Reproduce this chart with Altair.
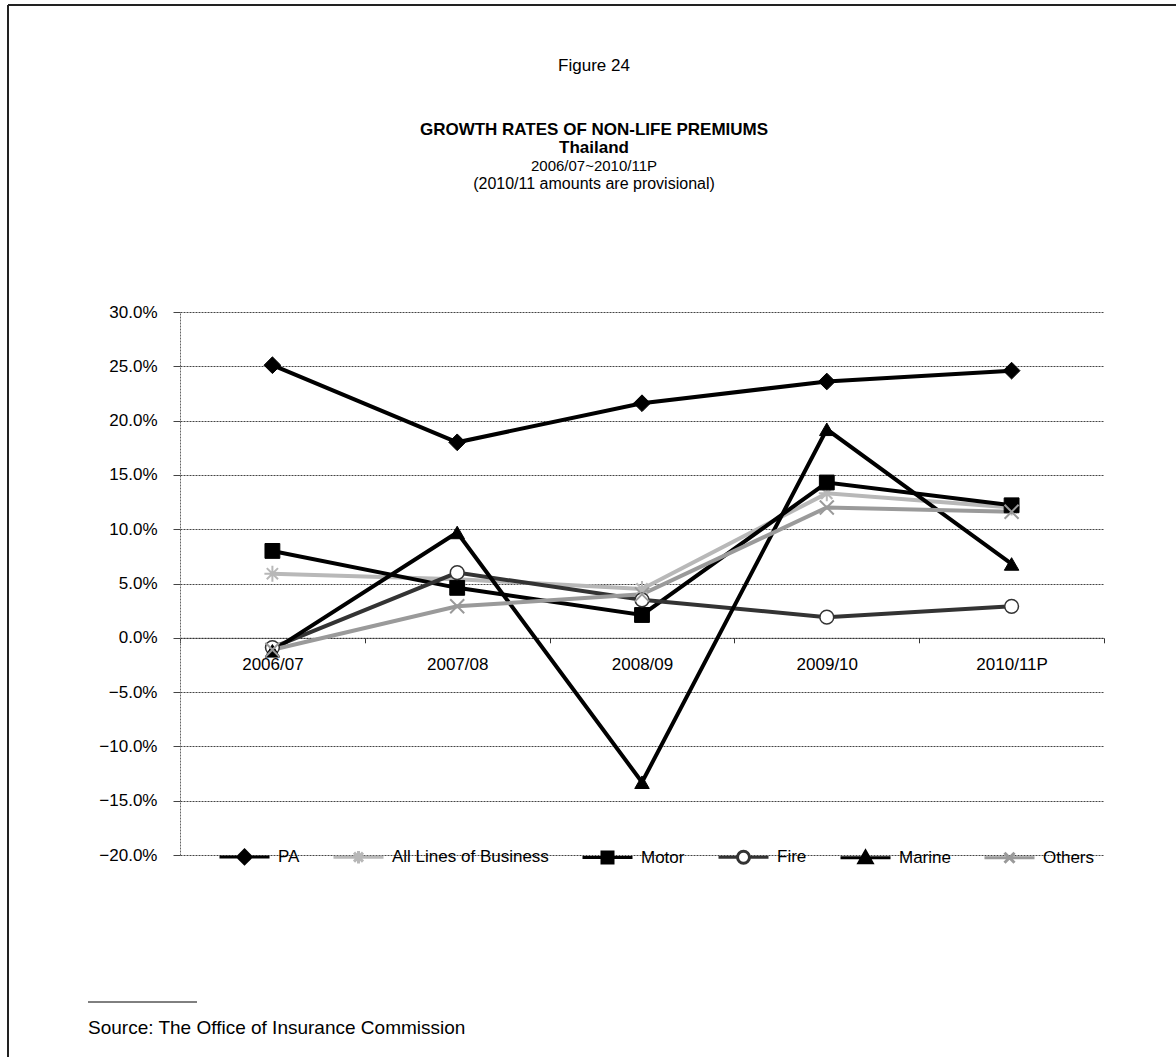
import altair as alt
import pandas as pd

FONT = "Liberation Sans, Arial, sans-serif"

# ---------------- data ----------------
categories = ["2006/07", "2007/08", "2008/09", "2009/10", "2010/11P"]
series_names = ["PA", "All Lines of Business", "Motor", "Fire", "Marine", "Others"]

pa = [25.1, 18.0, 21.6, 23.6, 24.6]
all_lines = [5.9, 5.4, 4.5, 13.3, 12.0]
motor = [8.0, 4.6, 2.1, 14.3, 12.2]
fire = [-0.9, 6.0, 3.5, 1.9, 2.9]
marine = [-1.2, 9.7, -13.3, 19.2, 6.8]
others = [-1.1, 2.9, 4.0, 12.0, 11.6]

y_ticks = [-20, -15, -10, -5, 0, 5, 10, 15, 20, 25, 30]

title_lines = ["Figure 24", "GROWTH RATES OF NON-LIFE PREMIUMS", "Thailand",
               "2006/07~2010/11P", "(2010/11 amounts are provisional)"]
source_text = "Source: The Office of Insurance Commission"

values = {"PA": pa, "All Lines of Business": all_lines, "Motor": motor,
          "Fire": fire, "Marine": marine, "Others": others}
rows = [{"year": c, "series": s, "value": v}
        for s in series_names for c, v in zip(categories, values[s])]
df = pd.DataFrame(rows)

# ---------------- styles ----------------
stroke_colors = ["#000000", "#b8b8b8", "#000000", "#333333", "#000000", "#9a9a9a"]
fill_colors = ["#000000", "transparent", "#000000", "#ffffff", "#000000", "transparent"]

marker = {
    "PA": dict(shape="diamond", size=280, strokeWidth=1),
    "All Lines of Business": dict(shape="M-1,0L1,0M0,-1L0,1M-0.7,-0.7L0.7,0.7M-0.7,0.7L0.7,-0.7",
                                  size=256, strokeWidth=2),
    "Motor": dict(shape="square", size=220, strokeWidth=1),
    "Fire": dict(shape="circle", size=190, strokeWidth=1.5),
    "Marine": dict(shape="triangle-up", size=210, strokeWidth=1),
    "Others": dict(shape="M-1,-1L1,1M-1,1L1,-1", size=196, strokeWidth=2),
}
legend_paths = [
    "M-1,0L1,0M0,-0.27L0.27,0L0,0.27L-0.27,0Z",
    "M-1,0L1,0M0,-0.25L0,0.25M-0.18,-0.18L0.18,0.18M-0.18,0.18L0.18,-0.18",
    "M-1,0L1,0M-0.22,-0.22L0.22,-0.22L0.22,0.22L-0.22,0.22Z",
    "M-1,0L-0.24,0M0.24,0L1,0M0.24,0A0.24,0.24,0,1,1,-0.24,0A0.24,0.24,0,1,1,0.24,0Z",
    "M-1,0L1,0M0,-0.26L0.26,0.2L-0.26,0.2Z",
    "M-1,0L1,0M-0.2,-0.2L0.2,0.2M-0.2,0.2L0.2,-0.2",
]

W, H = 924, 543
LEFT, TOP = 180, 312
zero_offset = -(H - H * 30 / 50)


def stroke_scale():
    return alt.Scale(domain=series_names, range=stroke_colors)


def fill_scale():
    return alt.Scale(domain=series_names, range=fill_colors)


x_enc = alt.X(
    "year:N", sort=categories,
    scale=alt.Scale(type="band", domain=categories, paddingInner=0, paddingOuter=0),
    axis=alt.Axis(title=None, offset=zero_offset, tickBand="extent", labelAngle=0,
                  grid=False, tickSize=5, labelPadding=14, labelFontSize=17,
                  labelFont=FONT, labelColor="#000000", domainColor="#333333",
                  domainDash=[2, 1], tickColor="#333333"),
)
y_enc = alt.Y(
    "value:Q",
    scale=alt.Scale(domain=[-20, 30], nice=False, zero=False),
    axis=alt.Axis(title=None, values=y_ticks,
                  labelExpr="format(datum.value, '.1f') + '%'",
                  tickSize=7, labelPadding=16, labelFontSize=17, labelFont=FONT,
                  labelColor="#000000", gridColor="#444444", gridDash=[2, 1],
                  gridWidth=1, domainColor="#666666", domainDash=[2, 1],
                  tickColor="#444444"),
)

base = alt.Chart(df)

lines = base.mark_line(strokeWidth=4, opacity=1).encode(
    x=x_enc, y=y_enc,
    stroke=alt.Stroke("series:N", scale=stroke_scale(), legend=None),
)

point_layers = []
for s in series_names:
    m = marker[s]
    point_layers.append(
        base.transform_filter(alt.datum.series == s).mark_point(
            shape=m["shape"], size=m["size"], strokeWidth=m["strokeWidth"], opacity=1,
        ).encode(
            x=x_enc, y=y_enc,
            stroke=alt.Stroke("series:N", scale=stroke_scale(), legend=None),
            fill=alt.Fill("series:N", scale=fill_scale(), legend=None),
        )
    )

leg = alt.Legend(title=None, orient="none", legendX=38, legendY=H - 25,
                 direction="horizontal", columns=6, symbolSize=2500,
                 symbolStrokeWidth=3, labelFontSize=17, labelFont=FONT,
                 labelColor="#000000", labelOffset=7, columnPadding=27,
                 labelLimit=400, padding=0)

legend_layer = base.transform_filter("false").mark_point(
    size=2500, strokeWidth=3, opacity=1
).encode(
    shape=alt.Shape("series:N", scale=alt.Scale(domain=series_names, range=legend_paths), legend=leg),
    stroke=alt.Stroke("series:N", scale=stroke_scale(), legend=leg),
    fill=alt.Fill("series:N", scale=fill_scale(), legend=leg),
)

# ---------------- titles / annotations ----------------
def text_layer(label, x, y, size=17, **kw):
    return alt.Chart(pd.DataFrame({"label": [label]})).mark_text(
        font=FONT, fontSize=size, color="#000000", baseline="middle", **kw
    ).encode(text="label:N", x=alt.value(x), y=alt.value(y))

cx = 594 - LEFT
texts = [
    text_layer(title_lines[0], cx, 66 - TOP, align="center"),
    text_layer(title_lines[1], cx, 130 - TOP, align="center", fontWeight="bold"),
    text_layer(title_lines[2], cx, 148 - TOP, align="center", fontWeight="bold"),
    text_layer(title_lines[3], cx, 166 - TOP, size=15, align="center"),
    text_layer(title_lines[4], cx, 184 - TOP, size=16, align="center"),
    text_layer(source_text, 88 - LEFT, 1028 - TOP, size=19, align="left"),
]

deco_src = pd.DataFrame({"k": [0]})
deco = [
    alt.Chart(deco_src).mark_rule(color="#222222", strokeWidth=2).encode(
        x=alt.value(8 - LEFT), x2=alt.value(1176 - LEFT), y=alt.value(5 - TOP)),
    alt.Chart(deco_src).mark_rule(color="#222222", strokeWidth=2).encode(
        x=alt.value(8 - LEFT), y=alt.value(5 - TOP), y2=alt.value(1057 - TOP)),
    alt.Chart(deco_src).mark_rule(color="#000000", strokeWidth=1).encode(
        x=alt.value(88 - LEFT), x2=alt.value(197 - LEFT), y=alt.value(1002 - TOP)),
]

chart = alt.layer(lines, *point_layers, legend_layer, *texts, *deco).resolve_scale(
    stroke="independent", fill="independent", shape="independent"
).properties(
    width=W, height=H,
    autosize=alt.AutoSizeParams(type="none"),
    padding={"left": LEFT, "top": TOP, "right": 1176 - LEFT - W, "bottom": 1057 - TOP - H},
    background="#ffffff",
).configure_view(stroke=None)

chart.save("out.html", embed_options={"renderer": "svg", "actions": False})
